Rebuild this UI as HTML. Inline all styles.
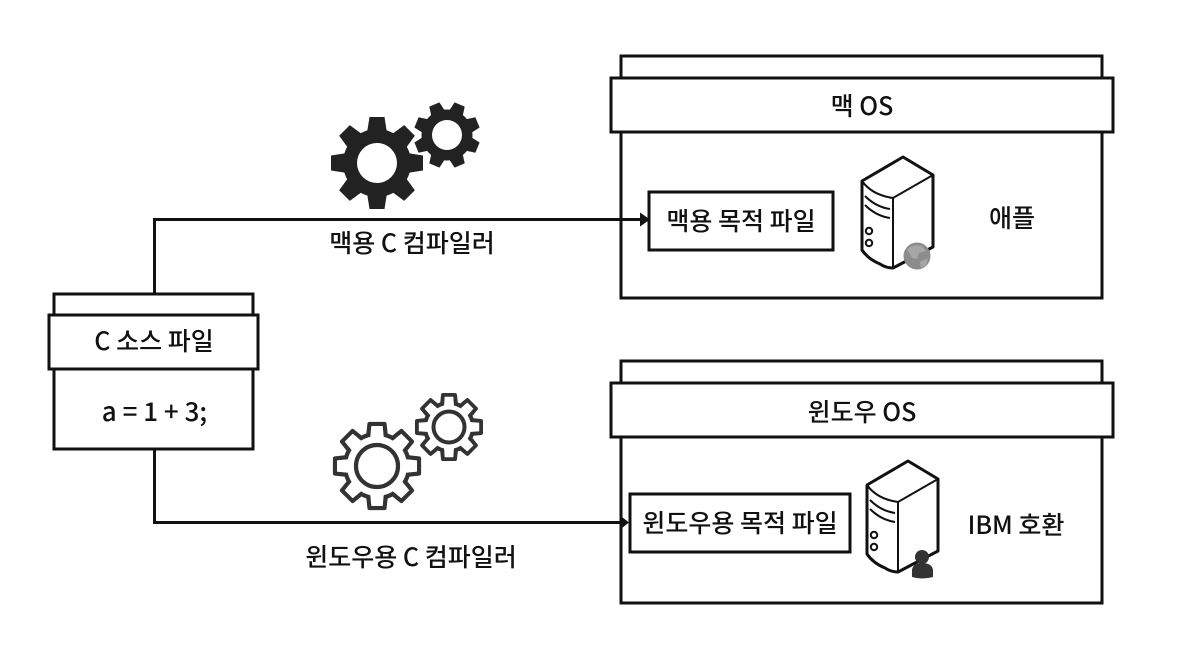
<!DOCTYPE html>
<html>
<head>
<meta charset="utf-8">
<style>
html,body{margin:0;padding:0;background:#fff;width:1196px;height:652px;overflow:hidden}
svg{display:block}
text{font-family:"Noto Sans CJK KR","Liberation Sans",sans-serif;font-size:25px;font-weight:500;fill:#111;text-anchor:middle}
.b{fill:#fff;stroke:#111;stroke-width:3}
.l{fill:none;stroke:#111;stroke-width:3}
.s{fill:#fff;stroke:#111;stroke-width:3;stroke-linejoin:round}
.t{fill:none;stroke:#111;stroke-width:2}
</style>
</head>
<body>
<svg width="1196" height="652" viewBox="0 0 1196 652" xmlns="http://www.w3.org/2000/svg">
<defs>
<g id="ft"><path d="M-10 -30 L-7.5 -46 H7.5 L10 -30 Z" fill="#222"/></g>
<g id="bigf">
<use href="#ft"/><use href="#ft" transform="rotate(45)"/><use href="#ft" transform="rotate(90)"/><use href="#ft" transform="rotate(135)"/><use href="#ft" transform="rotate(180)"/><use href="#ft" transform="rotate(225)"/><use href="#ft" transform="rotate(270)"/><use href="#ft" transform="rotate(315)"/>
<circle r="34" fill="#222"/><circle r="20" fill="#fff"/>
</g>
<g id="fs"><path d="M-7.5 -22 L-5.5 -33 H5.5 L7.5 -22 Z" fill="#222"/></g>
<g id="smf">
<use href="#fs"/><use href="#fs" transform="rotate(45)"/><use href="#fs" transform="rotate(90)"/><use href="#fs" transform="rotate(135)"/><use href="#fs" transform="rotate(180)"/><use href="#fs" transform="rotate(225)"/><use href="#fs" transform="rotate(270)"/><use href="#fs" transform="rotate(315)"/>
<circle r="25.5" fill="#222"/><circle r="15" fill="#fff"/>
</g>
<path id="ot" d="M-9 -28 L-7.5 -42 H7.5 L9 -28" fill="#fff" stroke="#333" stroke-width="4.2" stroke-linejoin="round"/>
<path id="oc" d="M-7 -27 L-5.5 -40 H5.5 L7 -27 Z" fill="#fff"/>
<path id="ots" d="M-7 -22 L-6 -32 H6 L7 -22" fill="#fff" stroke="#333" stroke-width="4" stroke-linejoin="round"/>
<path id="ocs" d="M-5 -21 L-4.2 -30.2 H4.2 L5 -21 Z" fill="#fff"/>
<g id="server">
<path class="s" d="M0 24 L41 0 L71 18 V90 L31 111 Q24 111 18 107 Q6 102 0 93 Z"/>
<path class="t" d="M0 24 Q10 38 31 41 L71 18"/>
<path class="t" d="M31 41 V111"/>
<path class="t" d="M3 39 Q14 50 28 52"/>
<path class="t" d="M3 48 Q14 59 28 61"/>
<circle class="t" cx="7" cy="74" r="3.2"/>
<circle class="t" cx="7" cy="86" r="3.2"/>
</g>
</defs>

<!-- connectors -->
<path class="l" d="M154.5 294 V219.5 H642"/>
<path d="M640 212.5 L650 219.5 L640 226.5 Z" fill="#111"/>
<path class="l" d="M154.5 449 V522.5 H620"/>
<path d="M620 515.5 L629 522.5 L620 529.5 Z" fill="#111"/>

<!-- source file -->
<rect class="b" x="54" y="294" width="199" height="155"/>
<rect class="b" x="49" y="315" width="209" height="54"/>
<text x="154" y="350">C 소스 파일</text>
<text x="154.5" y="421" style="font-size:26px">a = 1 + 3;</text>

<!-- mac box -->
<rect class="l" x="621" y="56" width="481" height="242"/>
<rect class="b" x="611" y="78" width="502" height="54"/>
<text x="862" y="115">맥 OS</text>
<rect class="b" x="649" y="192" width="184" height="58"/>
<text x="741" y="230">맥용 목적 파일</text>
<text x="1012" y="227">애플</text>

<!-- windows box -->
<rect class="l" x="621" y="361" width="481" height="242"/>
<rect class="b" x="611" y="383" width="502" height="54"/>
<text x="862" y="421">윈도우 OS</text>
<rect class="b" x="630" y="494" width="220" height="58"/>
<text x="740" y="532">윈도우용 목적 파일</text>
<text x="1016" y="534">IBM 호환</text>

<!-- labels -->
<text x="412" y="252">맥용 C 컴파일러</text>
<text x="411" y="566">윈도우용 C 컴파일러</text>

<!-- filled gears -->
<g transform="translate(447 135) rotate(22.5)"><use href="#smf"/></g>
<circle cx="377" cy="163" r="38" fill="#fff"/>
<g transform="translate(377 163)"><use href="#bigf"/></g>

<!-- outline gears -->
<g transform="translate(449 427)">
<use href="#ots"/><use href="#ots" transform="rotate(45)"/><use href="#ots" transform="rotate(90)"/><use href="#ots" transform="rotate(135)"/><use href="#ots" transform="rotate(180)"/><use href="#ots" transform="rotate(225)"/><use href="#ots" transform="rotate(270)"/><use href="#ots" transform="rotate(315)"/>
<circle r="24" fill="#fff" stroke="#333" stroke-width="4"/>
<use href="#ocs"/><use href="#ocs" transform="rotate(45)"/><use href="#ocs" transform="rotate(90)"/><use href="#ocs" transform="rotate(135)"/><use href="#ocs" transform="rotate(180)"/><use href="#ocs" transform="rotate(225)"/><use href="#ocs" transform="rotate(270)"/><use href="#ocs" transform="rotate(315)"/>
<circle r="15.5" fill="none" stroke="#333" stroke-width="4"/>
</g>
<circle cx="377" cy="466" r="36" fill="#fff"/>
<g transform="translate(377 466)">
<use href="#ot"/><use href="#ot" transform="rotate(45)"/><use href="#ot" transform="rotate(90)"/><use href="#ot" transform="rotate(135)"/><use href="#ot" transform="rotate(180)"/><use href="#ot" transform="rotate(225)"/><use href="#ot" transform="rotate(270)"/><use href="#ot" transform="rotate(315)"/>
<circle r="32" fill="#fff" stroke="#333" stroke-width="4.2"/>
<use href="#oc"/><use href="#oc" transform="rotate(45)"/><use href="#oc" transform="rotate(90)"/><use href="#oc" transform="rotate(135)"/><use href="#oc" transform="rotate(180)"/><use href="#oc" transform="rotate(225)"/><use href="#oc" transform="rotate(270)"/><use href="#oc" transform="rotate(315)"/>
<circle r="21" fill="none" stroke="#333" stroke-width="4.2"/>
</g>

<!-- servers -->
<g transform="translate(862 157)"><use href="#server"/></g>
<circle cx="917" cy="256" r="13.5" fill="#8c8c8c"/>
<path d="M907 249 Q914 244 922 246 L926 251 L919 253 L917 259 L912 258 Z M920 262 L928 258 L926 265 L921 268 Z" fill="#a6a6a6"/>

<g transform="translate(867 461)"><use href="#server"/></g>
<circle cx="922" cy="557" r="7" fill="#333"/>
<path d="M912 577 V570 Q913 563 922 563 Q932 563 933 570 V577 Q922 580 912 577 Z" fill="#333"/>
</svg>
</body>
</html>
